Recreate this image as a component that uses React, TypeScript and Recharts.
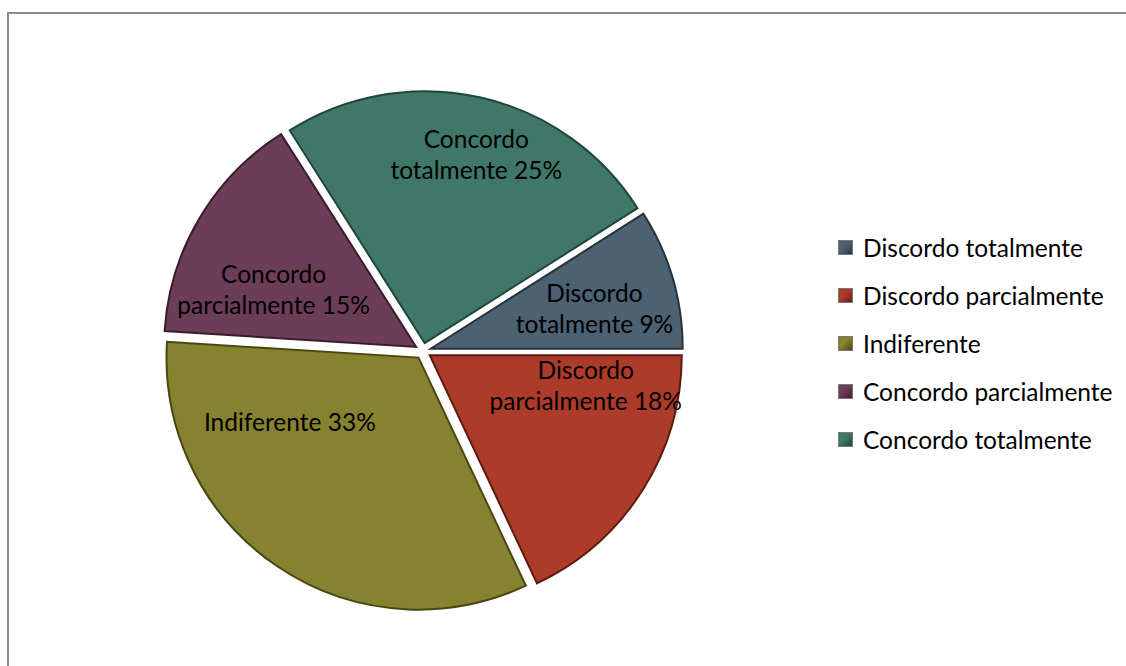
import React from 'react';
import { PieChart, Pie, Cell, Legend } from 'recharts';

const categories = [
  'Discordo totalmente',
  'Discordo parcialmente',
  'Indiferente',
  'Concordo parcialmente',
  'Concordo totalmente',
];
const shares = [9, 18, 33, 15, 25];

const colors = ['#4c6272', '#ad3b29', '#86822f', '#6c3d56', '#3f7869'];
const edgeColors = ['#26323b', '#5e1a10', '#4a4612', '#3a1d2d', '#1f463b'];

// where each label sits: fraction of the radius, shift from the slice mid angle (deg)
const labelSpots: [number, number][] = [
  [0.67, -2.2],
  [0.63, 21.7],
  [0.57, -29.4],
  [0.61, 8.6],
  [0.78, -2.6],
];

const data = categories.map((name, i) => ({ name, value: shares[i] }));

const FONT = 'Lato, "Liberation Sans", sans-serif';
const CX = 409;
const CY = 332;
const RADIUS = 252;
const EXPLODE = 8;
const START = 32.4;

const total = shares.reduce((a, b) => a + b, 0);
const midAngles = shares.map((v, i) => {
  const before = shares.slice(0, i).reduce((a, b) => a + b, 0);
  return START - ((before + v / 2) / total) * 360;
});

const renderLabel = (slice: number) => (props: any) => {
  const { cx, cy, midAngle, outerRadius, index, percent, name } = props;
  if (index !== slice) return null;
  const [k, shift] = labelSpots[index];
  const a = ((midAngle + shift) * Math.PI) / 180;
  const x = cx + outerRadius * k * Math.cos(a);
  const y = cy - outerRadius * k * Math.sin(a);
  const pct = `${Math.round(percent * 100)}%`;
  const words = String(name).split(' ');
  const lines =
    words.length > 1 ? [words[0], `${words.slice(1).join(' ')} ${pct}`] : [`${name} ${pct}`];
  const lh = 31;
  const y0 = y - ((lines.length - 1) * lh) / 2;
  return (
    <text x={x} y={y0} textAnchor="middle" fontFamily={FONT} fontSize={24.5} fill="#000">
      {lines.map((l, i) => (
        <tspan key={i} x={x} y={y0 + i * lh} dominantBaseline="central">
          {l}
        </tspan>
      ))}
    </text>
  );
};

function SliceLegend() {
  return (
    <ul style={{ listStyle: 'none', margin: 0, padding: 0, fontFamily: FONT, fontSize: 24.5 }}>
      {categories.map((c, i) => (
        <li key={c} style={{ display: 'flex', alignItems: 'center', height: 48 }}>
          <span
            style={{
              display: 'inline-block',
              width: 13,
              height: 13,
              marginRight: 10,
              border: '1px solid #777',
              background: `linear-gradient(135deg, ${colors[i]} 0%, ${colors[i]} 45%, ${edgeColors[i]} 100%)`,
            }}
          />
          <span style={{ color: '#000' }}>{c}</span>
        </li>
      ))}
    </ul>
  );
}

export default function App() {
  return (
    <div
      style={{
        position: 'absolute',
        left: 7,
        top: 12,
        width: 1117,
        height: 652,
        borderTop: '2px solid #8c8c8c',
        borderLeft: '2px solid #8c8c8c',
        background: '#fff',
      }}
    >
      <PieChart width={1115} height={650}>
        {categories.map((c, s) => {
          const a = (midAngles[s] * Math.PI) / 180;
          return (
            <Pie
              key={c}
              data={data}
              dataKey="value"
              nameKey="name"
              cx={CX + EXPLODE * Math.cos(a)}
              cy={CY - EXPLODE * Math.sin(a)}
              outerRadius={RADIUS}
              startAngle={START}
              endAngle={START - 360}
              label={renderLabel(s)}
              labelLine={false}
              legendType="none"
              isAnimationActive={false}
            >
              {data.map((d, j) => (
                <Cell
                  key={d.name}
                  fill={j === s ? colors[j] : 'transparent'}
                  stroke={j === s ? edgeColors[j] : 'none'}
                  strokeWidth={j === s ? 2 : 0}
                />
              ))}
            </Pie>
          );
        })}
        <Legend
          content={() => <SliceLegend />}
          wrapperStyle={{ position: 'absolute', left: 829, top: 209, width: 285 }}
        />
      </PieChart>
    </div>
  );
}
